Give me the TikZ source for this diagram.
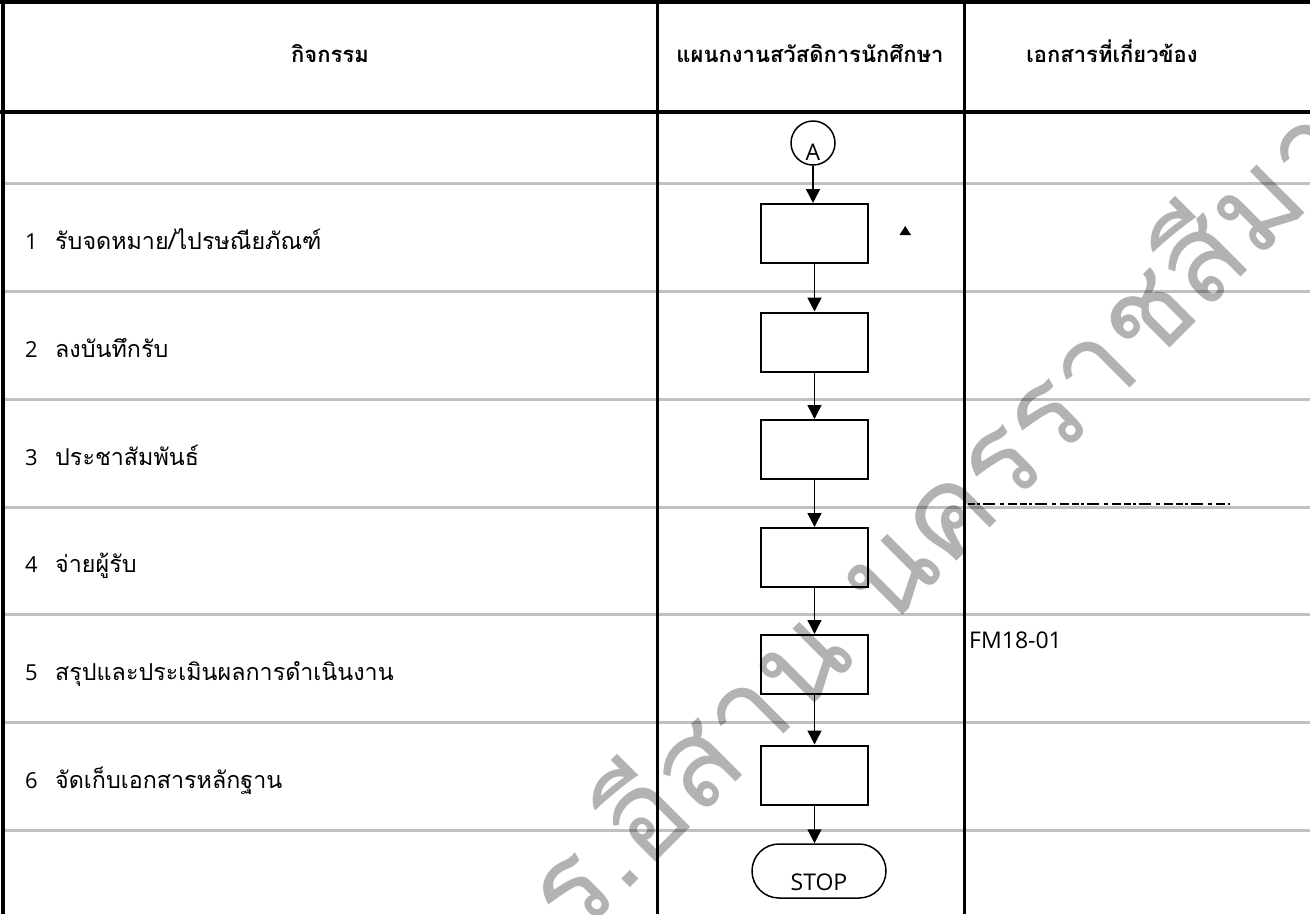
\documentclass[tikz,border=0pt]{standalone}
\usepackage{fontspec}
\setmainfont{Open Sans}
\newfontfamily\thaifont[Script=Thai]{Loma}
\usetikzlibrary{arrows.meta}
\definecolor{rowgray}{RGB}{192,192,192}
\begin{document}
\begin{tikzpicture}[x=1pt,y=-1pt,
  gridline/.style={line width=3pt, draw=rowgray},
  frameline/.style={line width=4pt, draw=black},
  colline/.style={line width=3pt, draw=black},
  stepbox/.style={draw, line width=2pt, minimum width=107pt, minimum height=59pt, inner sep=0pt},
  flow/.style={line width=1.5pt, -{Triangle[width=14pt,length=14pt]}},
  acttext/.style={anchor=base west, inner sep=0pt, font=\fontsize{22}{26}\selectfont},
  headtext/.style={anchor=base, inner sep=0pt, font=\thaifont\bfseries\fontsize{22}{26}\selectfont},
]
\useasboundingbox (0,0) rectangle (1310,914);
% grid
\foreach \y in {183,291,399,507,614,722,830} \draw[gridline] (3,\y) -- (1310,\y);
\draw[frameline] (0,2) -- (1310,2);
\draw[frameline] (0,112) -- (1310,112);
\draw[frameline] (3,0) -- (3,914);
\draw[colline] (657,0) -- (657,914);
\draw[colline] (964,0) -- (964,914);
% header
\node[headtext] (h1) at (330,62) {กิจกรรม};
\node[headtext] (h2) at (810,62) {แผนกงานสวัสดิการนักศึกษา};
\node[headtext] (h3) at (1112,62) {เอกสารที่เกี่ยวข้อง};
% activities
\newcommand{\thb}{\thaifont\fontsize{23.3}{26}\selectfont}
\node[acttext] (a1) at (25,249) {\makebox[30pt][l]{1}{\thb รับจดหมาย/ไปรษณียภัณฑ์}};
\node[acttext] (a2) at (25,357) {\makebox[30pt][l]{2}{\thb ลงบันทึกรับ}};
\node[acttext] (a3) at (25,465) {\makebox[30pt][l]{3}{\thb ประชาสัมพันธ์}};
\node[acttext] (a4) at (25,572) {\makebox[30pt][l]{4}{\thb จ่ายผู้รับ}};
\node[acttext] (a5) at (25,680) {\makebox[30pt][l]{5}{\thb สรุปและประเมินผลการดำเนินงาน}};
\node[acttext] (a6) at (25,788) {\makebox[30pt][l]{6}{\thb จัดเก็บเอกสารหลักฐาน}};
% documents
\node[acttext, font=\fontsize{23}{26}\selectfont] (d5) at (969,648) {FM18-01};
\draw[line width=2pt, dash pattern=on 7pt off 2pt on 3pt off 3pt on 12pt off 5pt on 4pt off 4pt on 9pt off 3pt] (968,504) -- (1230,504);
% flow
\node[circle, draw, line width=1.5pt, minimum size=44pt, inner sep=0pt, text height=34pt, text depth=0pt, font=\fontsize{23}{24}\selectfont] (A) at (813,143) {A};
\node[stepbox] (b1) at (814.5,233.5) {};
\node[stepbox] (b2) at (814.5,342) {};
\node[stepbox] (b3) at (814.5,449.5) {};
\node[stepbox] (b4) at (814.5,557.5) {};
\node[stepbox] (b5) at (814.5,664.5) {};
\node[stepbox] (b6) at (814.5,775) {};
\node[draw, line width=1.5pt, minimum width=134pt, minimum height=54pt, rounded corners=27pt, inner sep=0pt, text height=38pt, text depth=0pt, font=\fontsize{23}{26}\selectfont] (stop) at (819,871) {STOP};
\draw[flow] (A.south) -- (A.south |- b1.north);
\draw[flow] (b1) -- (b2);
\draw[flow] (b2) -- (b3);
\draw[flow] (b3) -- (b4);
\draw[flow] (b4) -- (b5);
\draw[flow] (b5) -- (b6);
\draw[flow] (b6.south) -- (b6.south |- stop.north);
\fill (899.5,235) -- (911,235) -- (905.2,226) -- cycle;
% watermark
\begin{scope}
\clip (0,0) rectangle (1310,914);
\node[rotate=45, anchor=base west, inner sep=0pt, text=black, text opacity=0.3, font=\thaifont\fontsize{122}{122}\selectfont] (wm) at (576,942) {ร.อีสาน นครราชสีมา};
\end{scope}
\end{tikzpicture}
\end{document}
